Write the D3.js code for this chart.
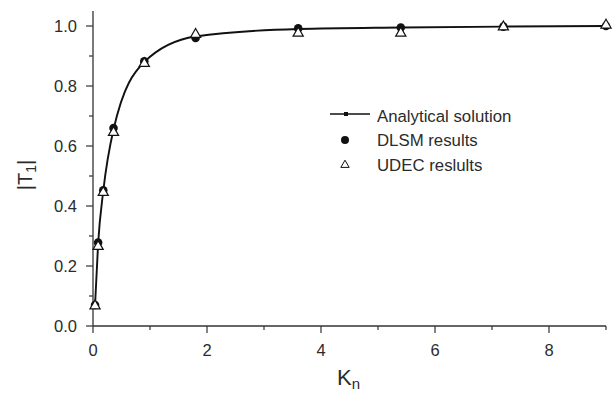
<!DOCTYPE html>
<html>
<head>
<meta charset="utf-8">
<script src="https://cdn.jsdelivr.net/npm/d3@7"></script>
<style>
  body { margin: 0; background: #fff; }
  text { font-family: Arial, "Liberation Sans", sans-serif; fill: #2b2b2b; }
</style>
</head>
<body>
<svg id="chart" width="613" height="393"></svg>
<script>
// values
const kn = [0.036, 0.09, 0.18, 0.36, 0.9, 1.8, 3.6, 5.4, 7.2, 9.0];
const analytical = [0.07, 0.275, 0.45, 0.655, 0.88, 0.965, 0.99, 0.995, 0.998, 1.0];
const dlsm = [0.07, 0.278, 0.452, 0.66, 0.882, 0.96, 0.992, 0.995, 0.998, 1.0];
const udec = [0.067, 0.265, 0.445, 0.645, 0.875, 0.972, 0.976, 0.976, 0.997, 1.003];
const xTicks = [0, 2, 4, 6, 8];
const yTicks = [0.0, 0.2, 0.4, 0.6, 0.8, 1.0];
const legendLabels = ["Analytical solution", "DLSM results", "UDEC reslults"];

const svg = d3.select("#chart");
const axisColor = "#333";

const x = d3.scaleLinear().domain([0, 9]).range([93, 606]);
const y = d3.scaleLinear().domain([0, 1.05]).range([326, 11]);

// x axis
const xAxis = svg.append("g").attr("transform", "translate(0,326)");
xAxis.append("line").attr("x1", x(0)).attr("x2", x(9)).attr("stroke", axisColor).attr("stroke-width", 1.3);
d3.range(0, 10).forEach(v => {
  xAxis.append("line").attr("x1", x(v)).attr("x2", x(v))
    .attr("y1", 0).attr("y2", v % 2 === 0 ? 7 : 4)
    .attr("stroke", axisColor).attr("stroke-width", 1.2);
});
xTicks.forEach(v => {
  xAxis.append("text").attr("x", x(v)).attr("y", 30)
    .attr("text-anchor", "middle").style("font-size", "16.5px").text(v);
});

// y axis
const yAxis = svg.append("g").attr("transform", "translate(93,0)");
yAxis.append("line").attr("y1", y(0)).attr("y2", y(1.05)).attr("stroke", axisColor).attr("stroke-width", 1.3);
d3.range(0, 11).forEach(i => {
  const v = i / 10;
  yAxis.append("line").attr("y1", y(v)).attr("y2", y(v))
    .attr("x1", 0).attr("x2", i % 2 === 0 ? -7 : -4)
    .attr("stroke", axisColor).attr("stroke-width", 1.2);
});
yTicks.forEach(v => {
  yAxis.append("text").attr("x", -16).attr("y", y(v) + 6)
    .attr("text-anchor", "end").style("font-size", "16.5px").text(v.toFixed(1));
});

// axis titles
const xt = svg.append("text").attr("x", 337).attr("y", 385).style("font-size", "22px");
xt.append("tspan").text("K");
xt.append("tspan").attr("dy", 4).style("font-size", "15px").text("n");

const yt = svg.append("text").attr("transform", "translate(32,175) rotate(-90)")
  .attr("text-anchor", "middle").style("font-size", "20px");
yt.append("tspan").text("|T");
yt.append("tspan").attr("dy", 4).style("font-size", "14px").text("1");
yt.append("tspan").attr("dy", -4).text("|");

// analytical curve
const line = d3.line()
  .x((d, i) => x(kn[i]))
  .y(d => y(d))
  .curve(d3.curveMonotoneX);
svg.append("path").datum(analytical).attr("d", line)
  .attr("fill", "none").attr("stroke", "#111").attr("stroke-width", 1.9);

// DLSM points
svg.selectAll(".dlsm").data(dlsm).enter().append("circle")
  .attr("class", "dlsm")
  .attr("cx", (d, i) => x(kn[i])).attr("cy", d => y(d))
  .attr("r", 4.3).attr("fill", "#111");

// UDEC points
const tri = d3.symbol().type(d3.symbolTriangle).size(45);
svg.selectAll(".udec").data(udec).enter().append("path")
  .attr("class", "udec")
  .attr("transform", (d, i) => `translate(${x(kn[i])},${y(d)})`)
  .attr("d", tri).attr("fill", "#fff").attr("stroke", "#111").attr("stroke-width", 1.2);

// legend
const lg = svg.append("g");
lg.append("line").attr("x1", 330).attr("x2", 370).attr("y1", 114).attr("y2", 114)
  .attr("stroke", "#111").attr("stroke-width", 1.6);
lg.append("rect").attr("x", 344).attr("y", 112).attr("width", 4).attr("height", 4).attr("fill", "#111");
lg.append("circle").attr("cx", 345).attr("cy", 140).attr("r", 4).attr("fill", "#111");
lg.append("path").attr("transform", "translate(345,165)").attr("d", d3.symbol().type(d3.symbolTriangle).size(30))
  .attr("fill", "#fff").attr("stroke", "#111").attr("stroke-width", 1);
const legendY = [121.5, 145.5, 171];
legendLabels.forEach((t, i) => {
  lg.append("text").attr("x", 377).attr("y", legendY[i])
    .style("font-size", "16.8px").text(t);
});
</script>
</body>
</html>
